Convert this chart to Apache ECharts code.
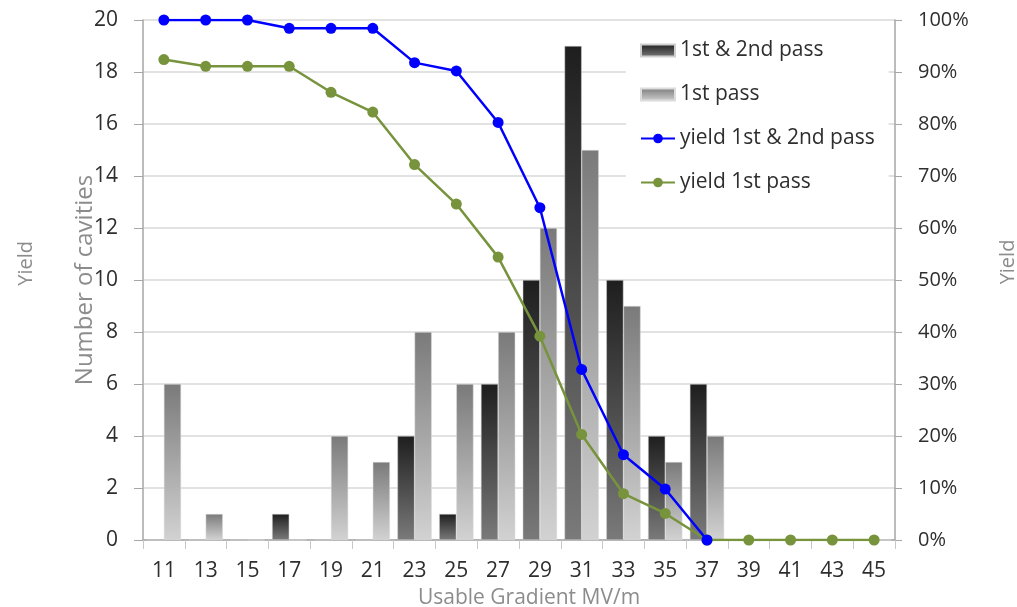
<!DOCTYPE html>
<html>
<head>
<meta charset="utf-8">
<script src="https://cdn.jsdelivr.net/npm/echarts@6/dist/echarts.min.js"></script>
<style>
  html, body { margin: 0; padding: 0; background: #fff; }
  #chart { width: 1017px; height: 607px; }
</style>
</head>
<body>
<div id="chart"></div>
<script>
const gradients = ['11', '13', '15', '17', '19', '21', '23', '25', '27', '29', '31', '33', '35', '37', '39', '41', '43', '45'];

// Number of cavities
const countBothPasses = [0, 0, 0, 1, 0, 0, 4, 1, 6, 10, 19, 10, 4, 6, 0, 0, 0, 0];
const countFirstPass = [6, 1, 0, 0, 4, 3, 8, 6, 8, 12, 15, 9, 3, 4, 0, 0, 0, 0];

// Yield (fraction)
const yieldBothPasses = [1.0, 1.0, 1.0, 0.984, 0.984, 0.984, 0.918, 0.902, 0.803, 0.639, 0.328, 0.164, 0.098, 0.0, '-', '-', '-', '-'];
const yieldFirstPass = [0.924, 0.911, 0.911, 0.911, 0.861, 0.823, 0.722, 0.646, 0.544, 0.392, 0.203, 0.089, 0.051, 0.0, 0.0, 0.0, 0.0, 0.0];

const fontFamily = '"Open Sans", Lato, sans-serif';
const labelColor = '#2e2e2e';
const nameColor = '#8c8c8c';
const axisLine = { show: true, lineStyle: { color: '#a6a6a6', width: 1.5 } };

const darkBar = new echarts.graphic.LinearGradient(0, 0, 0, 1, [
  { offset: 0, color: '#1e1e1e' },
  { offset: 1, color: '#7a7a7a' }
]);
const lightBar = new echarts.graphic.LinearGradient(0, 0, 0, 1, [
  { offset: 0, color: '#7a7a7a' },
  { offset: 1, color: '#d2d2d2' }
]);

const chart = echarts.init(document.getElementById('chart'));

chart.setOption({
  animation: false,
  textStyle: { fontFamily },
  grid: { left: 143, right: 122, top: 20, bottom: 67, outerBoundsMode: 'none' },
  legend: {
    orient: 'vertical',
    left: 626,
    top: 30,
    padding: [10, 14, 22, 14],
    backgroundColor: '#fff',
    itemWidth: 34,
    itemHeight: 12,
    itemGap: 23,
    textStyle: { color: labelColor, fontSize: 21, fontFamily },
    data: [
      { name: '1st & 2nd pass', icon: 'rect' },
      { name: '1st pass', icon: 'rect' },
      'yield 1st & 2nd pass',
      'yield 1st pass'
    ]
  },
  xAxis: {
    type: 'category',
    data: gradients,
    boundaryGap: true,
    name: 'Usable Gradient MV/m',
    nameLocation: 'middle',
    nameGap: 48,
    nameMoveOverlap: false,
    nameTextStyle: { color: nameColor, fontSize: 21, fontFamily, padding: [0, 0, 0, 20] },
    axisLine,
    axisTick: { show: true, length: 9, lineStyle: { color: '#c8c8c8' } },
    axisLabel: { color: labelColor, fontSize: 21, margin: 21 }
  },
  yAxis: [
    {
      type: 'value',
      min: 0,
      max: 20,
      interval: 2,
      name: 'Number of cavities',
      nameLocation: 'middle',
      nameGap: 46,
      nameMoveOverlap: false,
      nameTextStyle: { color: nameColor, fontSize: 24, fontFamily },
      axisLine,
      axisTick: { show: true, length: 9, lineStyle: { color: '#a6a6a6' } },
      axisLabel: { color: labelColor, fontSize: 21, margin: 25 },
      splitLine: { lineStyle: { color: '#d9d9d9', width: 1.5 } }
    },
    {
      type: 'value',
      min: 0,
      max: 1,
      interval: 0.1,
      position: 'right',
      name: 'Yield',
      nameLocation: 'middle',
      nameGap: 103,
      nameMoveOverlap: false,
      nameTextStyle: { color: nameColor, fontSize: 20, fontFamily, padding: [0, 0, 0, 36] },
      axisLine,
      axisTick: { show: true, length: 7, lineStyle: { color: '#a6a6a6' } },
      axisLabel: {
        color: labelColor,
        fontSize: 20,
        margin: 23,
        formatter: function (value) { return Math.round(value * 100) + '%'; }
      },
      splitLine: { show: false }
    }
  ],
  graphic: [
    {
      type: 'text',
      left: 16,
      top: 241,
      rotation: Math.PI / 2,
      style: { text: 'Yield', fill: nameColor, font: '20px ' + fontFamily }
    }
  ],
  series: [
    {
      name: '1st & 2nd pass',
      type: 'bar',
      data: countBothPasses,
      barGap: '0%',
      barCategoryGap: '18%',
      itemStyle: { color: darkBar, borderColor: '#cfcfcf', borderWidth: 0.5 },
      z: 2
    },
    {
      name: '1st pass',
      type: 'bar',
      data: countFirstPass,
      barGap: '0%',
      barCategoryGap: '18%',
      itemStyle: { color: lightBar, borderColor: '#dcdcdc', borderWidth: 0.5 },
      z: 2
    },
    {
      name: 'yield 1st & 2nd pass',
      type: 'line',
      yAxisIndex: 1,
      data: yieldBothPasses,
      symbol: 'circle',
      symbolSize: 11,
      lineStyle: { color: '#0000ff', width: 2.5 },
      itemStyle: { color: '#0000ff' },
      z: 4
    },
    {
      name: 'yield 1st pass',
      type: 'line',
      yAxisIndex: 1,
      data: yieldFirstPass,
      symbol: 'circle',
      symbolSize: 11,
      lineStyle: { color: '#77933c', width: 2.5 },
      itemStyle: { color: '#77933c' },
      z: 3
    }
  ]
});
</script>
</body>
</html>
